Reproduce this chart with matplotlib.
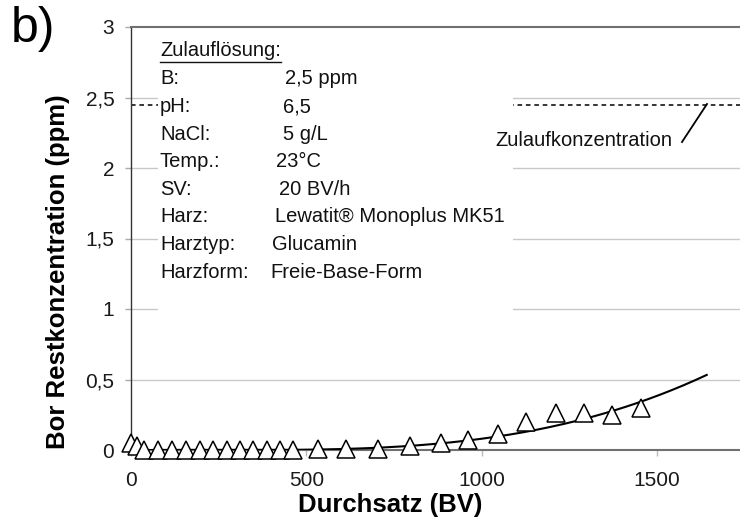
import numpy as np
import matplotlib
matplotlib.use('Agg')
import matplotlib.pyplot as plt
from matplotlib.patches import Rectangle

# measured breakthrough data (BV, ppm)
bv = [0, 18, 38, 78, 118, 157, 196, 235, 273, 311, 349, 387, 425, 463,
      532, 614, 705, 797, 885, 962, 1046, 1127, 1212, 1292, 1373, 1455]
boron = [0.05, 0.03, 0.0, 0.0, 0.0, 0.0, 0.0, 0.0, 0.0, 0.0, 0.0, 0.0, 0.0, 0.0,
         0.01, 0.01, 0.01, 0.03, 0.05, 0.07, 0.11, 0.20, 0.26, 0.26, 0.25, 0.30]

# points
trend_x = [0, 250, 500, 711, 805, 886, 1047, 1167, 1224, 1295, 1375, 1459, 1642]
trend_y = [0.0, 0.0, 0.0, 0.012, 0.026, 0.05, 0.107, 0.16, 0.19, 0.22, 0.26, 0.33, 0.545]

feed_conc = 2.45

info_labels = ['B:', 'pH:', 'NaCl:', 'Temp.:', 'SV:', 'Harz:', 'Harztyp:', 'Harzform:']
info_values = ['2,5 ppm', '6,5', '5 g/L', '23°C', '20 BV/h',
               'Lewatit® Monoplus MK51', 'Glucamin', 'Freie-Base-Form']
value_x_px = [285, 283, 283, 276, 279, 275, 272, 270]

yticks = [0, 0.5, 1, 1.5, 2, 2.5, 3]
ytick_labels = ['0', '0,5', '1', '1,5', '2', '2,5', '3']
xticks = [0, 500, 1000, 1500]

plt.rcParams['font.family'] = ['Liberation Sans', 'DejaVu Sans']

W, H = 740, 528
L, B, T = 131, 450, 27
fig = plt.figure(figsize=(W / 100, H / 100), dpi=100)
ax = fig.add_axes([L / W, 1 - B / H, 1 - L / W, (B - T) / H])

ax.set_xlim(0, 1737)
ax.set_ylim(0, 3)

ax.set_yticks(yticks)
ax.set_yticklabels(ytick_labels)
ax.set_xticks(xticks)
ax.tick_params(axis='both', labelsize=15, colors='#1a1a1a')
ax.tick_params(axis='y', direction='out', length=4, width=1, color='#aaaaaa', pad=8)
ax.tick_params(axis='x', direction='out', length=4, width=1, color='#bbbbbb', pad=11)

for y in yticks[1:-1]:
    ax.axhline(y, color='#c8c8c8', lw=1, zorder=0)

ax.spines['right'].set_visible(False)
ax.spines['left'].set_color('#333333')
ax.spines['left'].set_linewidth(1)
ax.spines['top'].set_color('#707070')
ax.spines['top'].set_linewidth(1.5)
ax.spines['bottom'].set_color('#707070')
ax.spines['bottom'].set_linewidth(1.5)

# feed concentration
ax.axhline(feed_conc, color='black', lw=1.1, ls=(0, (3, 2.5)), zorder=1)

# trend line
coef = np.polyfit(trend_x, trend_y, 3)
xs = np.linspace(trend_x[0], trend_x[-1], 300)
ax.plot(xs, np.polyval(coef, xs), color='black', lw=1.5, zorder=3)

ax.plot(bv, boron, ls='none', marker='^', ms=12.5, mfc='white', mec='black',
        mew=1.1, zorder=4, clip_on=False)


def axpos(px, py):
    return ((px - L) / (W - L), (B - py) / (B - T))


# white box behind info text
bx0, by0 = axpos(158, 345)
bx1, by1 = axpos(513, 40)
ax.add_patch(Rectangle((bx0, by0), bx1 - bx0, by1 - by0, transform=ax.transAxes,
                       facecolor='white', edgecolor='none', zorder=2))

fs = 14.5
title = ax.text(*axpos(160, 50), 'Zulauflösung:', transform=ax.transAxes,
                fontsize=fs, va='center', ha='left', color='#111111', zorder=5)
for i, (lab, val) in enumerate(zip(info_labels, info_values)):
    yy = 79 + i * 27.6
    ax.text(*axpos(160, yy), lab, transform=ax.transAxes, fontsize=fs,
            va='center', ha='left', color='#111111', zorder=5)
    ax.text(*axpos(value_x_px[i], yy), val, transform=ax.transAxes, fontsize=fs,
            va='center', ha='left', color='#111111', zorder=5)

fig.canvas.draw()
bb = title.get_window_extent().transformed(ax.transAxes.inverted())
uy = axpos(0, 62)[1]
ax.plot([bb.x0, bb.x1], [uy, uy], transform=ax.transAxes, color='#111111',
        lw=1, zorder=5)

# label for the feed line with its leader
ax.text(*axpos(495, 140), 'Zulaufkonzentration', transform=ax.transAxes,
        fontsize=fs, va='center', ha='left', color='#111111', zorder=5)
p0 = axpos(682, 142)
p1 = axpos(707, 104)
ax.plot([p0[0], p1[0]], [p0[1], p1[1]], transform=ax.transAxes, color='black',
        lw=1.3, zorder=5)

ax.set_xlabel('Durchsatz (BV)', fontsize=18.5, fontweight='bold')
ax.xaxis.set_label_coords(axpos(390, 0)[0], axpos(0, 505)[1])
ax.xaxis.label.set_va('center')
ax.set_ylabel('Bor Restkonzentration (ppm)', fontsize=18.5, fontweight='bold')
ax.yaxis.set_label_coords(axpos(58, 0)[0], axpos(0, 272)[1])
ax.yaxis.label.set_va('center')

fig.text(33 / W, 1 - 29 / H, 'b)', fontsize=36, ha='center', va='center')

fig.savefig('out.png', dpi=100)
